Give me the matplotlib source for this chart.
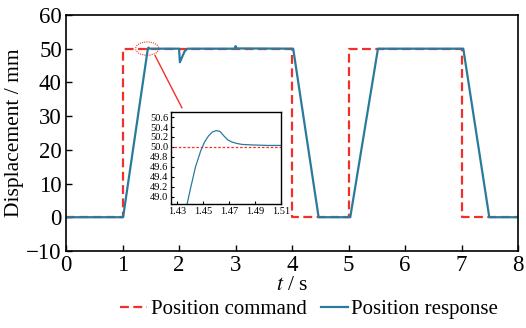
import matplotlib.pyplot as plt
from matplotlib.patches import Ellipse

plt.rcParams.update({"font.family": "Liberation Serif", "font.size": 15,
                     "mathtext.fontset": "stix"})

# position command (step signal)
cmd_t = [0, 1.0, 1.0, 4.0, 4.0, 5.0, 5.0, 7.0, 7.0, 8.0]
cmd_y = [0, 0, 50, 50, 0, 0, 50, 50, 0, 0]

# position response
resp_t = [0, 1.01, 1.4375, 1.440, 1.444, 1.448, 1.451, 1.454, 1.457, 1.460,
          1.463, 1.466, 1.469, 1.472, 1.476, 1.480, 1.488, 1.50, 1.51,
          2.0, 2.015, 2.10, 2.15, 2.99, 3.0, 3.02, 4.02, 4.47, 5.03, 5.52,
          7.03, 7.49, 8.0]
resp_y = [0, 0, 48.85, 49.15, 49.6, 49.92, 50.1, 50.22, 50.3, 50.33,
          50.31, 50.22, 50.14, 50.1, 50.07, 50.05, 50.04, 50.03, 50.03,
          50.03, 46.0, 49.3, 50.03, 50.03, 50.8, 50.1, 50.03, 0, 0, 50.03,
          50.03, 0, 0]

red = "#f2302b"
blue = "#2a7a9c"

fig = plt.figure(figsize=(5.26, 3.28), dpi=100)
ax = fig.add_axes([0.1255, 0.235, 0.8595, 0.719])
ax.plot(cmd_t, cmd_y, color=red, lw=1.6, dashes=(4, 2), label="Position command")
ax.plot(resp_t, resp_y, color=blue, lw=1.6, label="Position response")
ax.set_xlim(0, 8)
ax.set_ylim(-10, 60)
ax.set_xticks(range(0, 9))
ax.set_yticks(range(-10, 61, 10))
ax.set_yticklabels(["\u221210"] + [str(v) for v in range(0, 61, 10)])
ax.tick_params(direction="in", length=4, width=1, labelsize=16.5, pad=3)
for s in ax.spines.values():
    s.set_linewidth(1.2)
ax.set_xlabel("$t$ / s", labelpad=0, fontsize=15.5)
ax.set_ylabel("Displacement / mm", labelpad=2, fontsize=15.5)

# zoom marker
ax.add_patch(Ellipse((1.437, 50.05), 0.41, 3.95, fill=False, ec=red,
                     lw=0.8, ls=(0, (1, 1))))
ax.plot([1.575, 2.05], [48.0, 32.5], color=red, lw=1.0)

# inset
ins = fig.add_axes([0.325, 0.378, 0.209, 0.280])
ins.plot(cmd_t, cmd_y, color=red, lw=0.9, ls=(0, (2, 1.5)))
ins.plot(resp_t, resp_y, color=blue, lw=0.9)
ins.set_xlim(1.425, 1.51)
ins.set_ylim(48.85, 50.7)
ins.set_xticks([1.43, 1.45, 1.47, 1.49, 1.51])
ins.set_yticks([49.0, 49.2, 49.4, 49.6, 49.8, 50.0, 50.2, 50.4, 50.6])
ins.set_yticklabels([f"{v:.1f}" for v in ins.get_yticks()])
ins.tick_params(direction="in", length=2.5, labelsize=7.5, pad=2)
for s in ins.spines.values():
    s.set_linewidth(1.0)

fig.legend(loc="lower center", bbox_to_anchor=(0.588, -0.03), ncol=2,
           frameon=False, handlelength=1.3, handletextpad=0.15,
           columnspacing=0.7, fontsize=15)

fig.savefig("out.png", dpi=100)
